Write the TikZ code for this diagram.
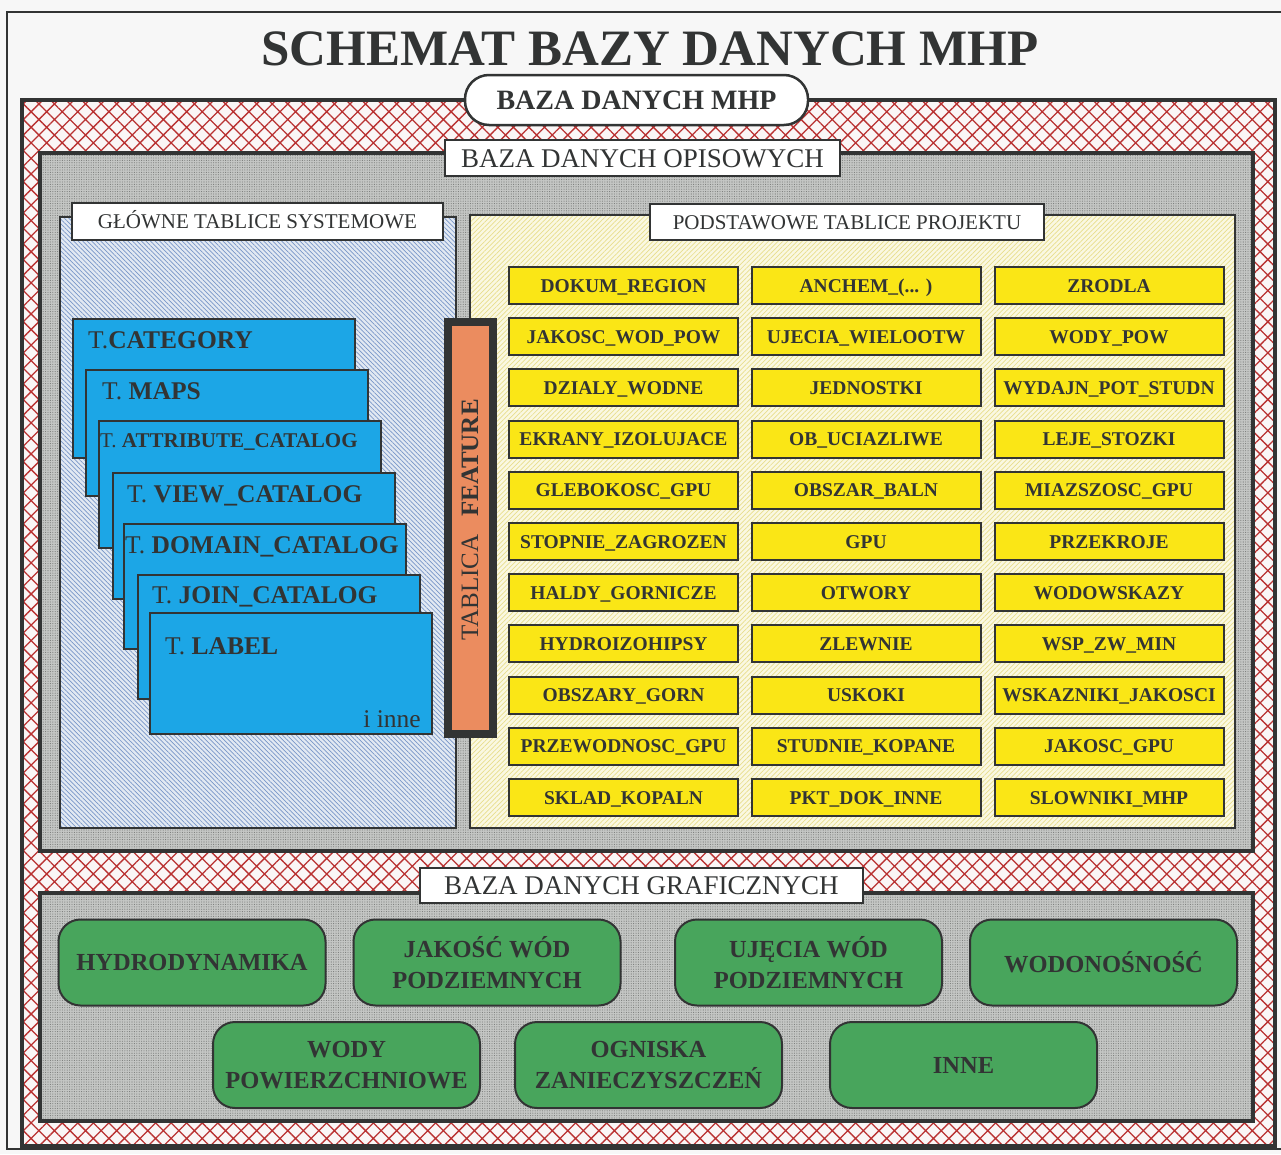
\documentclass[tikz,border=0pt]{standalone}
\usepackage{fontspec}
\setmainfont{Liberation Serif}
\usetikzlibrary{patterns.meta}
\definecolor{ink}{RGB}{50,52,52}
\definecolor{pagebg}{RGB}{247,247,247}
\definecolor{hatchbg}{RGB}{250,246,246}
\definecolor{hatchred}{RGB}{185,50,50}
\definecolor{stipple}{RGB}{196,198,196}
\definecolor{stippledot}{RGB}{120,122,120}
\definecolor{bluebg}{RGB}{226,233,242}
\definecolor{blueline}{RGB}{120,150,200}
\definecolor{yelbg}{RGB}{250,248,226}
\definecolor{yelline}{RGB}{232,222,140}
\definecolor{yelbox}{RGB}{250,230,22}
\definecolor{cardblue}{RGB}{28,166,230}
\definecolor{feat}{RGB}{235,140,95}
\definecolor{gboxgreen}{RGB}{72,165,92}
\newcommand\anchemlabel{ANCHEM\_(... )}
\tikzset{
  frame/.style={draw=ink, line width=4pt, inner sep=0pt, preaction={fill=stipple},
     pattern={Dots[distance=2.4pt,radius=0.55pt]}, pattern color=stippledot},
  redframe/.style={draw=ink, line width=4pt, inner sep=0pt, preaction={fill=hatchbg},
     pattern={Hatch[angle=45,distance=11pt,line width=1.3pt]}, pattern color=hatchred},
  lbox/.style={draw=ink, line width=2pt, fill=white, inner sep=0pt, text=ink},
  ybox/.style={draw=ink, line width=2pt, fill=yelbox, minimum width=229pt, minimum height=37pt,
     inner sep=0pt, text height=13pt, text depth=0pt, font=\fontsize{19.5}{22}\selectfont\bfseries, text=ink},
  card/.style={draw=ink, line width=1.8pt, fill=cardblue, anchor=north west, inner sep=0pt, minimum width=282pt},
  ctext/.style={anchor=base west, inner sep=0pt, text=ink, font=\fontsize{25.5}{28}\selectfont},
  gbox/.style={draw=ink, line width=2pt, fill=gboxgreen, rounded corners=22pt, minimum width=267pt,
     minimum height=86pt, inner sep=0pt, align=center, font=\fontsize{24.5}{31}\selectfont\bfseries, text=ink},
}
\begin{document}
\begin{tikzpicture}[x=1pt,y=-1pt]
\fill[pagebg] (0,0) rectangle (1281,1154);
\useasboundingbox (0,0) rectangle (1281,1154);
\draw[ink, line width=1.5pt] (7,12) rectangle (1290,1149);
% title
\node[anchor=base, inner sep=0pt, text=ink, font=\fontsize{51}{55}\selectfont\bfseries] (title) at (650,65) {SCHEMAT BAZY DANYCH MHP};
% main frames
\node[redframe, minimum width=1253pt, minimum height=1046pt] (mhp) at (648.5,623) {};
\node[frame, minimum width=1213pt, minimum height=698pt] (opis) at (646.5,502) {};
\node[frame, minimum width=1213pt, minimum height=228pt] (graf) at (646.5,1007) {};
\node[lbox, line width=2.5pt, rounded corners=24pt, minimum width=343pt, minimum height=50pt,
      text height=19pt, text depth=0pt, font=\fontsize{28}{30}\selectfont\bfseries] (mhpl) at (636.5,100) {BAZA DANYCH MHP};
\node[lbox, minimum width=395pt, minimum height=36pt, text height=18pt, text depth=0pt,
      font=\fontsize{27}{30}\selectfont] (opisl) at (642.5,158) {BAZA DANYCH OPISOWYCH};
% panels
\node[draw=ink, line width=2pt, inner sep=0pt, minimum width=396pt, minimum height=611pt,
      preaction={fill=bluebg}, pattern={Lines[angle=-45,distance=3.2pt,line width=0.7pt]}, pattern color=blueline] (sysp) at (258,522.5) {};
\node[draw=ink, line width=2pt, inner sep=0pt, minimum width=765pt, minimum height=613pt,
      preaction={fill=yelbg}, pattern={Lines[angle=45,distance=3.4pt,line width=0.7pt]}, pattern color=yelline] (projp) at (852.5,521.5) {};
\node[lbox, minimum width=371pt, minimum height=37pt, text height=14pt, text depth=0pt,
      font=\fontsize{21}{24}\selectfont] (sysl) at (257.5,221.5) {GŁÓWNE TABLICE SYSTEMOWE};
\node[lbox, minimum width=394pt, minimum height=36pt, text height=14pt, text depth=0pt,
      font=\fontsize{21}{24}\selectfont] (projl) at (847,222) {PODSTAWOWE TABLICE PROJEKTU};
% cards
\node[card, minimum height=139pt] (c1) at (72,318) {};
\node[card, minimum height=126pt] (c2) at (85,369) {};
\node[card, minimum height=127pt] (c3) at (98,420) {};
\node[card, minimum height=126pt] (c4) at (112,472) {};
\node[card, minimum height=125pt] (c5) at (123,523) {};
\node[card, minimum height=124pt] (c6) at (137,574) {};
\node[card, minimum height=121pt] (c7) at (149,612) {};
\node[ctext] (t1) at (88,348) {T.\textbf{CATEGORY}};
\node[ctext] (t2) at (102,399) {T. \textbf{MAPS}};
\node[ctext, font=\fontsize{21}{24}\selectfont] (t3) at (100,447) {T. \textbf{ATTRIBUTE\_CATALOG}};
\node[ctext] (t4) at (127,502) {T. \textbf{VIEW\_CATALOG}};
\node[ctext] (t5) at (125,553) {T. \textbf{DOMAIN\_CATALOG}};
\node[ctext] (t6) at (152,603) {T. \textbf{JOIN\_CATALOG}};
\node[ctext] (t7) at (165,654) {T. \textbf{LABEL}};
\node[ctext, anchor=base east] (t8) at (421,727) {i inne};
% tablica feature
\node[draw=ink, line width=8pt, fill=feat, inner sep=0pt, minimum width=45pt, minimum height=412pt] (feat) at (470.5,528) {};
\node[anchor=base, rotate=90, inner sep=0pt, text=ink, font=\fontsize{25}{28}\selectfont] (featl) at (478,520) {TABLICA\hspace{0.7em}\textbf{FEATURE}};
% project tables
\foreach [count=\r] \a/\b/\c in {
  DOKUM\_REGION/\anchemlabel/ZRODLA,
  JAKOSC\_WOD\_POW/UJECIA\_WIELOOTW/WODY\_POW,
  DZIALY\_WODNE/JEDNOSTKI/WYDAJN\_POT\_STUDN,
  EKRANY\_IZOLUJACE/OB\_UCIAZLIWE/LEJE\_STOZKI,
  GLEBOKOSC\_GPU/OBSZAR\_BALN/MIAZSZOSC\_GPU,
  STOPNIE\_ZAGROZEN/GPU/PRZEKROJE,
  HALDY\_GORNICZE/OTWORY/WODOWSKAZY,
  HYDROIZOHIPSY/ZLEWNIE/WSP\_ZW\_MIN,
  OBSZARY\_GORN/USKOKI/WSKAZNIKI\_JAKOSCI,
  PRZEWODNOSC\_GPU/STUDNIE\_KOPANE/JAKOSC\_GPU,
  SKLAD\_KOPALN/PKT\_DOK\_INNE/SLOWNIKI\_MHP}{
  \node[ybox] (y\r a) at (623.5,{285.5+51.2*(\r-1)}) {\a};
  \node[ybox] (y\r b) at (866,{285.5+51.2*(\r-1)}) {\b};
  \node[ybox] (y\r c) at (1109,{285.5+51.2*(\r-1)}) {\c};
}
% graphic database
\node[lbox, minimum width=443pt, minimum height=35pt, text height=18pt, text depth=0pt,
      font=\fontsize{27}{30}\selectfont] (grafl) at (641.5,885.5) {BAZA DANYCH GRAFICZNYCH};
\node[gbox] (g1) at (192,962.5) {HYDRODYNAMIKA};
\node[gbox] (g2) at (487,962.5) {JAKOŚĆ WÓD\\PODZIEMNYCH};
\node[gbox] (g3) at (808.5,962.5) {UJĘCIA WÓD\\PODZIEMNYCH};
\node[gbox] (g4) at (1103.5,962.5) {WODONOŚNOŚĆ};
\node[gbox] (g5) at (346.5,1065) {WODY\\POWIERZCHNIOWE};
\node[gbox] (g6) at (648.5,1065) {OGNISKA\\ZANIECZYSZCZEŃ};
\node[gbox] (g7) at (963.5,1065) {INNE};
\end{tikzpicture}
\end{document}
